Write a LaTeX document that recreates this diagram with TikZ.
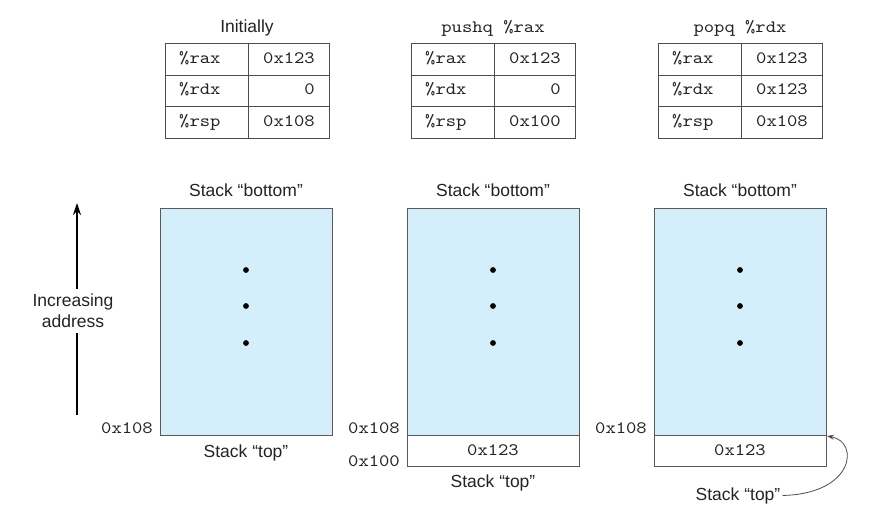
\documentclass[tikz,border=0pt]{standalone}
\usepackage{fontspec}
\setsansfont{Liberation Sans}
\setmonofont{lmmono10-regular.otf}[FakeStretch=1.13]
\usetikzlibrary{arrows.meta}

\definecolor{stackblue}{RGB}{212,238,251}
\definecolor{ink}{RGB}{35,35,35}

\tikzset{
    lbl/.style={font=\sffamily\fontsize{17.5}{21}\selectfont, text=ink, inner sep=0pt},
    code/.style={font=\ttfamily\fontsize{17.4}{19}\selectfont, text=ink, inner sep=0pt},
    cell/.style={draw=black!70, line width=0.9pt},
    stackbox/.style={fill=stackblue, draw=black!65, line width=1pt},
    slotbox/.style={fill=white, draw=black!65, line width=1pt},
}

\begin{document}
\begin{tikzpicture}[x=1pt,y=-1pt]
    \useasboundingbox (0,0) rectangle (871,513);

    % register tables
    \foreach \x/\ttl/\rdx/\rsp [count=\i] in {165/{\sffamily\fontsize{17.5}{21}\selectfont Initially}/0/0x108,
                                              411/pushq \%rax/0/0x100,
                                              658/popq \%rdx/0x123/0x108}{
        \node[code, anchor=base] (title\i) at (\x+82,33) {\ttl};
        \draw[cell] (\x,43) rectangle (\x+164,138);
        \draw[cell] (\x+83,43) -- (\x+83,138) (\x,75) -- (\x+164,75) (\x,106) -- (\x+164,106);
        \node[code, anchor=base west] (rax\i) at (\x+14,64) {\%rax};
        \node[code, anchor=base west] (rdx\i) at (\x+14,95) {\%rdx};
        \node[code, anchor=base west] (rsp\i) at (\x+14,127) {\%rsp};
        \node[code, anchor=base east] (vrax\i) at (\x+150,64) {0x123};
        \node[code, anchor=base east] (vrdx\i) at (\x+150,95) {\rdx};
        \node[code, anchor=base east] (vrsp\i) at (\x+150,127) {\rsp};
    }

    % stacks
    \foreach \x [count=\i] in {160,407,654}{
        \draw[stackbox] (\x,209) rectangle (\x+172,435);
        \node[lbl, anchor=base] (bot\i) at (\x+86,197) {Stack “bottom”};
        \foreach \y in {270,306,343}
            \fill[black] (\x+86,\y) circle (2.9pt);
        \node[code, anchor=base east] (adr\i) at (\x-7,433) {0x108};
    }
    \draw[slotbox] (407,435) rectangle (579,466);
    \draw[slotbox] (654,435) rectangle (826,466);
    \node[code, anchor=base] (slot2) at (493,455) {0x123};
    \node[code, anchor=base] (slot3) at (740,455) {0x123};
    \node[code, anchor=base east] (low2) at (400,466) {0x100};

    \node[lbl, anchor=base] (top1) at (246,457) {Stack “top”};
    \node[lbl, anchor=base] (top2) at (493,487) {Stack “top”};
    \node[lbl, anchor=base] (top3) at (738,500) {Stack “top”};
    \coordinate (corner3) at (827,436);
    \draw[black!70, line width=0.8pt, -{Stealth[length=7pt,width=5pt]}]
        ([xshift=2pt]top3.east) .. controls (854,494) and (860,442) .. (corner3);

    % address direction
    \node[lbl, align=center, inner sep=5pt] (incr) at (73,311) {Increasing\\address};
    \coordinate (abot) at (77,415);
    \coordinate (atop) at (77,203);
    \draw[black, line width=1.5pt] (abot) -- (incr.south -| abot);
    \draw[black, line width=1.5pt, -{Stealth[length=12pt,width=8pt]}] (incr.north -| abot) -- (atop);

\end{tikzpicture}
\end{document}
